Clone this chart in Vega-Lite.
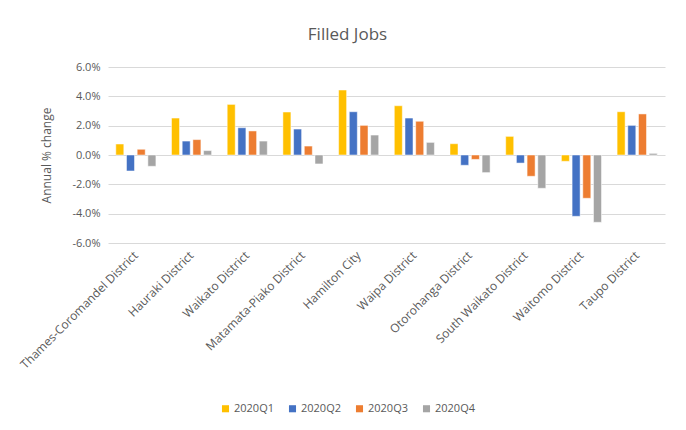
{
  "$schema": "https://vega.github.io/schema/vega-lite/v6.json",
  "autosize": "none",
  "width": 557,
  "height": 176,
  "padding": {"left": 108, "top": 67, "right": 21, "bottom": 187},
  "background": "white",
  "title": {
    "text": "Filled Jobs",
    "fontSize": 17,
    "font": "Open Sans",
    "fontWeight": "normal",
    "color": "#595959",
    "anchor": "middle",
    "dx": -39,
    "offset": 17
  },
  "data": {
    "values": [
      {"district": "Thames-Coromandel District", "quarter": "2020Q1", "change": 0.75},
      {"district": "Thames-Coromandel District", "quarter": "2020Q2", "change": -1.09},
      {"district": "Thames-Coromandel District", "quarter": "2020Q3", "change": 0.39},
      {"district": "Thames-Coromandel District", "quarter": "2020Q4", "change": -0.77},
      {"district": "Hauraki District", "quarter": "2020Q1", "change": 2.52},
      {"district": "Hauraki District", "quarter": "2020Q2", "change": 0.95},
      {"district": "Hauraki District", "quarter": "2020Q3", "change": 1.05},
      {"district": "Hauraki District", "quarter": "2020Q4", "change": 0.30},
      {"district": "Waikato District", "quarter": "2020Q1", "change": 3.45},
      {"district": "Waikato District", "quarter": "2020Q2", "change": 1.86},
      {"district": "Waikato District", "quarter": "2020Q3", "change": 1.64},
      {"district": "Waikato District", "quarter": "2020Q4", "change": 0.95},
      {"district": "Matamata-Piako District", "quarter": "2020Q1", "change": 2.93},
      {"district": "Matamata-Piako District", "quarter": "2020Q2", "change": 1.77},
      {"district": "Matamata-Piako District", "quarter": "2020Q3", "change": 0.61},
      {"district": "Matamata-Piako District", "quarter": "2020Q4", "change": -0.61},
      {"district": "Hamilton City", "quarter": "2020Q1", "change": 4.43},
      {"district": "Hamilton City", "quarter": "2020Q2", "change": 2.95},
      {"district": "Hamilton City", "quarter": "2020Q3", "change": 2.02},
      {"district": "Hamilton City", "quarter": "2020Q4", "change": 1.36},
      {"district": "Waipa District", "quarter": "2020Q1", "change": 3.36},
      {"district": "Waipa District", "quarter": "2020Q2", "change": 2.52},
      {"district": "Waipa District", "quarter": "2020Q3", "change": 2.30},
      {"district": "Waipa District", "quarter": "2020Q4", "change": 0.86},
      {"district": "Otorohanga District", "quarter": "2020Q1", "change": 0.77},
      {"district": "Otorohanga District", "quarter": "2020Q2", "change": -0.70},
      {"district": "Otorohanga District", "quarter": "2020Q3", "change": -0.30},
      {"district": "Otorohanga District", "quarter": "2020Q4", "change": -1.20},
      {"district": "South Waikato District", "quarter": "2020Q1", "change": 1.27},
      {"district": "South Waikato District", "quarter": "2020Q2", "change": -0.55},
      {"district": "South Waikato District", "quarter": "2020Q3", "change": -1.45},
      {"district": "South Waikato District", "quarter": "2020Q4", "change": -2.27},
      {"district": "Waitomo District", "quarter": "2020Q1", "change": -0.43},
      {"district": "Waitomo District", "quarter": "2020Q2", "change": -4.18},
      {"district": "Waitomo District", "quarter": "2020Q3", "change": -2.95},
      {"district": "Waitomo District", "quarter": "2020Q4", "change": -4.59},
      {"district": "Taupo District", "quarter": "2020Q1", "change": 2.95},
      {"district": "Taupo District", "quarter": "2020Q2", "change": 2.02},
      {"district": "Taupo District", "quarter": "2020Q3", "change": 2.80},
      {"district": "Taupo District", "quarter": "2020Q4", "change": 0.11}
    ]
  },
  "mark": {"type": "bar", "stroke": "white", "strokeWidth": 0.5},
  "encoding": {
    "x": {
      "field": "district",
      "type": "nominal",
      "sort": null,
      "scale": {"paddingInner": 0.28, "paddingOuter": 0.14},
      "axis": {
        "title": null,
        "labelAngle": -45,
        "labelAlign": "right",
        "labelBaseline": "middle",
        "labelPadding": 10,
        "labelFontSize": 12,
        "labelFont": "Open Sans",
        "labelColor": "#595959",
        "domain": false,
        "ticks": false,
        "grid": false
      }
    },
    "xOffset": {
      "field": "quarter",
      "type": "nominal",
      "scale": {"paddingInner": 0.25}
    },
    "y": {
      "field": "change",
      "type": "quantitative",
      "scale": {"domain": [-6, 6], "nice": false},
      "axis": {
        "title": "Annual % change",
        "titleFont": "Open Sans",
        "titleFontSize": 12,
        "titleFontWeight": "normal",
        "titleColor": "#595959",
        "titlePadding": 18,
        "values": [-6, -4, -2, 0, 2, 4, 6],
        "labelExpr": "(datum.value < 0 ? '-' : '') + format(abs(datum.value), '.1f') + '%'",
        "labelFont": "Open Sans",
        "labelFontSize": 11,
        "labelColor": "#595959",
        "labelPadding": 8,
        "domain": false,
        "ticks": false,
        "grid": true,
        "gridColor": "#d9d9d9",
        "gridWidth": 1
      }
    },
    "color": {
      "field": "quarter",
      "type": "nominal",
      "scale": {
        "domain": ["2020Q1", "2020Q2", "2020Q3", "2020Q4"],
        "range": ["#FFC000", "#4472C4", "#ED7D31", "#A5A5A5"]
      },
      "legend": {
        "title": null,
        "orient": "none",
        "direction": "horizontal",
        "legendX": 112,
        "legendY": 336,
        "symbolType": "square",
        "symbolSize": 50,
        "symbolStrokeWidth": 0,
        "labelFont": "Open Sans",
        "labelFontSize": 11,
        "labelColor": "#595959",
        "labelOffset": 3,
        "columnPadding": 12
      }
    }
  },
  "config": {
    "view": {"stroke": null}
  }
}
